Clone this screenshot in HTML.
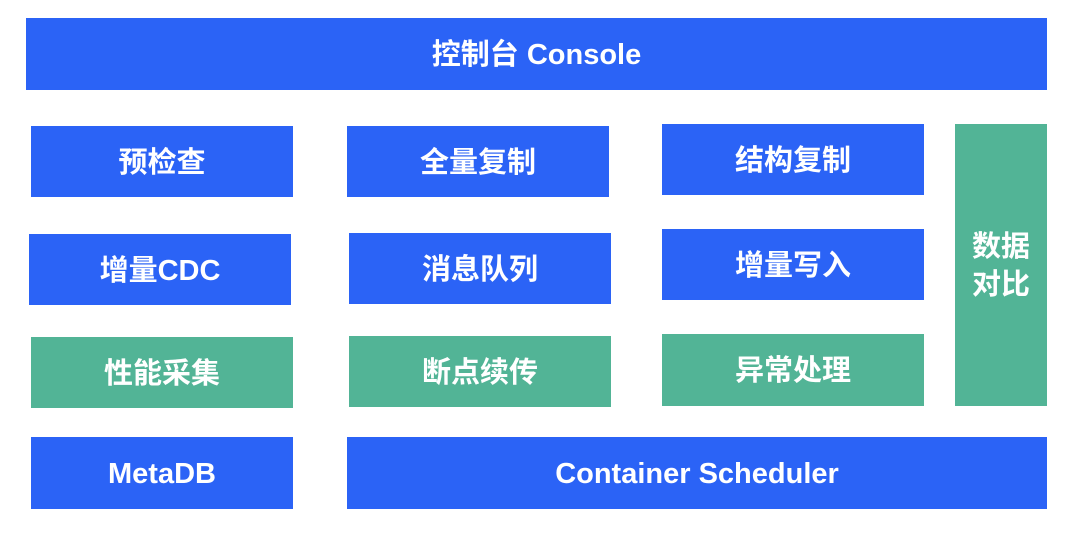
<!DOCTYPE html>
<html><head><meta charset="utf-8"><style>
body{margin:0;width:1080px;height:533px;background:#fff;position:relative;overflow:hidden;font-family:"Liberation Sans","Noto Sans CJK SC",sans-serif}
.b{position:absolute;background:#2b63f6;color:#fff;display:flex;align-items:center;justify-content:center;font-size:29px;font-weight:bold;text-align:center;line-height:1.3;padding-top:4px;box-sizing:border-box}
.g{background:#52b496}
</style></head><body>
<div class="b" style="left:26px;top:18px;width:1021px;height:72px">控制台 Console</div>
<div class="b" style="left:31px;top:126px;width:262px;height:71px">预检查</div>
<div class="b" style="left:347px;top:126px;width:262px;height:71px">全量复制</div>
<div class="b" style="left:662px;top:124px;width:262px;height:71px">结构复制</div>
<div class="b g" style="left:955px;top:124px;width:92px;height:282px">数据<br>对比</div>
<div class="b" style="left:29px;top:234px;width:262px;height:71px">增量CDC</div>
<div class="b" style="left:349px;top:233px;width:262px;height:71px">消息队列</div>
<div class="b" style="left:662px;top:229px;width:262px;height:71px">增量写入</div>
<div class="b g" style="left:31px;top:337px;width:262px;height:71px">性能采集</div>
<div class="b g" style="left:349px;top:336px;width:262px;height:71px">断点续传</div>
<div class="b g" style="left:662px;top:334px;width:262px;height:72px">异常处理</div>
<div class="b" style="left:31px;top:437px;width:262px;height:72px">MetaDB</div>
<div class="b" style="left:347px;top:437px;width:700px;height:72px">Container Scheduler</div>
</body></html>
